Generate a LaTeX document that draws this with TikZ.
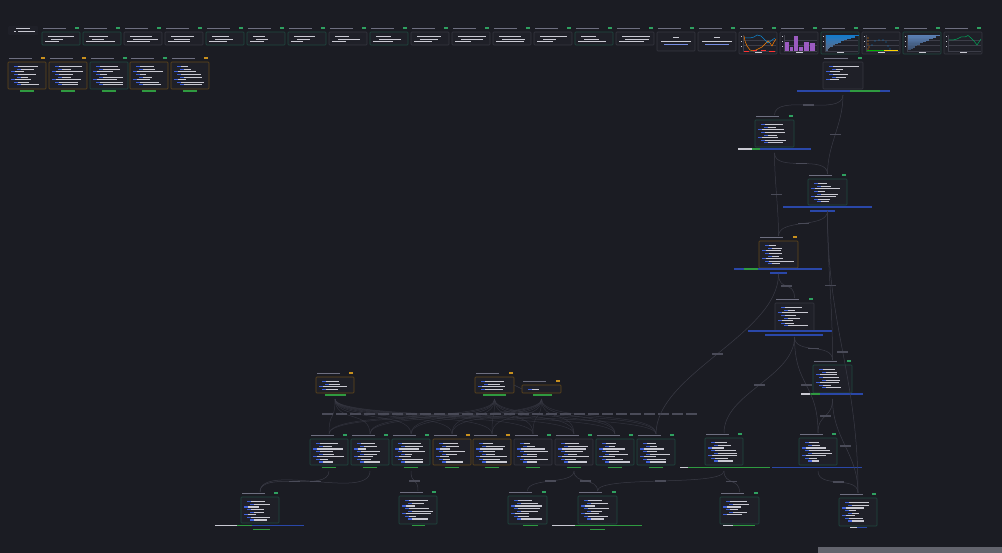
\documentclass[tikz,border=0pt]{standalone}
\usetikzlibrary{positioning,calc}
\definecolor{bg}{HTML}{1B1C23}
\definecolor{cardfill}{HTML}{1F2028}
\definecolor{tealedge}{HTML}{1F4A40}
\definecolor{grayedge}{HTML}{363741}
\definecolor{amberedge}{HTML}{64491A}
\definecolor{badgegreen}{HTML}{2FA060}
\definecolor{badgeamber}{HTML}{C8901E}
\definecolor{wirec}{HTML}{3A3B46}
\definecolor{elblc}{HTML}{4A4B58}
\definecolor{titlec}{HTML}{6E6F80}
\definecolor{txtwhite}{HTML}{C9C9D2}
\definecolor{kwblue}{HTML}{3D5FD8}
\definecolor{strred}{HTML}{B8323C}
\definecolor{outgreen}{HTML}{2F9A40}
\definecolor{lblblue}{HTML}{2A47A8}
\definecolor{gridc}{HTML}{3C3D48}
\definecolor{barpurple}{HTML}{9B5BC0}
\definecolor{steelblue}{HTML}{5A80B4}

% card: name, x, y, width, height, border, badge, lines, keyword colour
\newcommand{\card}[9]{%
  \node[card, draw=#6, minimum width=#4pt, minimum height=#5pt] (#1) at (#2,#3) {};
  \fill[titletxt] ($(#1.north west)+(1,-3.8)$) rectangle ++({0.6*#4},1.1);
  \fill[#7] ($(#1.north east)+(-5,-4.6)$) rectangle ++(4,1.6);
  \coordinate (#1-o) at ($(#1.south)+(0,6)$);
  \coordinate (#1-i) at ($(#1.north)+(0,-5)$);
  \ifnum#8>0
  \foreach \k in {1,...,#8}{
    \pgfmathsetmacro\ind{3+3*mod(\k,3)}
    \pgfmathsetmacro\len{6+(#4-14-\ind)*rnd}
    \fill[#9] ($(#1.north west)+(\ind,1.6+\k*2.6)$) rectangle ++(3.5,1.1);
    \fill[txtwhite] ($(#1.north west)+(\ind+4.3,1.6+\k*2.6)$) rectangle ++(\len,1.1);
  }
  \fi
}
% output label bar under a card
\newcommand{\outlbl}[4]{\fill[#4] (#1,#2) rectangle ++(#3,1.7);}
% connector with a label on it
\newcommand{\link}[3]{\draw[wire] (#1-o) .. controls +(0,#3) and +(0,-#3) .. (#2-i) node[elbl,pos=0.5] {};}

\begin{document}
\begin{tikzpicture}[x=1pt,y=-1pt,
  card/.style={anchor=north west,fill=cardfill,line width=0.6pt,inner sep=0pt,outer sep=0pt,rounded corners=0.8pt},
  wire/.style={draw=wirec,line width=0.5pt},
  elbl/.style={fill=elblc,inner sep=0pt,minimum width=11pt,minimum height=1.3pt},
  titletxt/.style={fill=titlec}]
\fill[bg] (0,0) rectangle (1002,553);
\pgfmathsetseed{7}

% top left
\node[anchor=north west,fill=cardfill,rounded corners=1pt,minimum width=30pt,minimum height=9pt,inner sep=0pt] (t0) at (8,26) {};
\fill[txtwhite] (16,28) rectangle ++(14,1);
\fill[txtwhite] (14,31) rectangle ++(2,1.5);
\fill[txtwhite] (18,31) rectangle ++(17,1);

% top row of notes
\foreach \i/\bc in {1/tealedge,2/tealedge,3/grayedge,4/grayedge,5/tealedge,6/tealedge,7/tealedge,8/grayedge,9/tealedge,10/grayedge,11/grayedge,12/grayedge,13/grayedge,14/tealedge,15/grayedge}{
  \pgfmathsetmacro\tx{42+41*(\i-1)}
  \card{t\i}{\tx}{32}{38}{13}{\bc}{badgegreen}{3}{txtwhite}
}
\foreach \i/\tx in {16/657,17/698}{
  \card{t\i}{\tx}{32}{38}{19}{grayedge}{badgegreen}{0}{txtwhite}
  \fill[txtwhite] ($(t\i.north)+(-3,5)$) rectangle ++(6,1.2);
  \fill[txtwhite] ($(t\i.north)+(-15,9)$) rectangle ++(30,1.1);
  \fill[kwblue!70] ($(t\i.north)+(-12,12)$) rectangle ++(24,1.1);
}
% chart cards
\foreach \i/\bc in {18/grayedge,19/grayedge,20/tealedge,21/grayedge,22/tealedge,23/grayedge}{
  \pgfmathsetmacro\tx{42+41*(\i-1)}
  \card{t\i}{\tx}{32}{38}{22}{\bc}{badgegreen}{0}{txtwhite}
  \begin{scope}[shift={(t\i.north west)}]
    \draw[gridc,line width=0.3pt] (4,3) -- (4,19) -- (37,19);
    \draw[gridc,line width=0.2pt] (4,8) -- (37,8) (4,13) -- (37,13);
    \foreach \yy in {4,9,14} \fill[txtwhite] (1.5,\yy) rectangle ++(1.2,0.8);
    \fill[txtwhite] (16,20.3) rectangle ++(7,0.9);
  \end{scope}
}
\begin{scope}[shift={(t18.north west)}]
  \draw[orange,line width=0.5pt] (5,4)--(6,9)--(8,14)--(11,18)--(15,19)--(19,17)--(23,15)--(26,12)--(29,9)--(31,11)--(33,14)--(35,10)--(37,7);
  \draw[cyan!70!blue,line width=0.5pt] (6,6)--(11,6)--(15,5)--(18,3)--(22,4)--(26,8)--(29,11)--(33,8)--(36,6);
  \draw[red!80,line width=0.8pt] (5,19)--(10,19) (14,18.5)--(18,18.5) (22,18)--(27,18) (30,19)--(36,19);
\end{scope}
\begin{scope}[shift={(t19.north west)}]
  \foreach \a/\b/\h in {5/9/10,10/13/15,14/18/4,19/23/15,24/29/10,30/35/11}
    \fill[barpurple] (\a,\h) rectangle (\b,19);
\end{scope}
\begin{scope}[shift={(t20.north west)}]
  \foreach \k in {0,...,11}{
    \pgfmathsetmacro\bl{32*(1-\k/12)^1.6+1}
    \fill[cyan!60!blue!\the\numexpr100-5*\k\relax!bg] (5,{3+\k*1.3}) rectangle ++(\bl,1.3);
  }
\end{scope}
\begin{scope}[shift={(t21.north west)}]
  \foreach \p in {(6,6),(6,9),(6,12),(7,15),(6,17)} \fill[orange] \p circle (0.6);
  \foreach \p in {(10,13),(13,9),(17,8),(21,8),(24,10),(26,14),(28,17)} \fill[cyan!60!blue] \p circle (0.6);
  \draw[green!70!black,line width=0.8pt] (5,18.5) -- (22,18.5);
  \draw[yellow!70!orange,line width=0.8pt] (22,18.5) -- (36,18.5);
\end{scope}
\begin{scope}[shift={(t22.north west)}]
  \foreach \k in {0,...,10}{
    \pgfmathsetmacro\bl{30*(1-\k/11)^1.4+2}
    \fill[steelblue!\the\numexpr100-5*\k\relax!bg] (5,{3+\k*1.4}) rectangle ++(\bl,1.4);
  }
\end{scope}
\begin{scope}[shift={(t23.north west)}]
  \draw[teal!70!green,line width=0.5pt] (5,8)--(9,8)--(13,7)--(17,5)--(21,5)--(24,3.5)--(27,6)--(30,9)--(33,13)--(35,10)--(37,7);
\end{scope}

% second row of code cells
\foreach \i/\sx/\bc/\bd in {1/8/amberedge/badgeamber,2/49/amberedge/badgeamber,3/90/tealedge/badgegreen,4/130/amberedge/badgegreen,5/171/amberedge/badgeamber}{
  \card{s\i}{\sx}{62}{38}{27}{\bc}{\bd}{8}{kwblue}
  \outlbl{\sx+12}{90.5}{14}{outgreen}
}

% right column chain
\card{A}{823}{62}{40}{27}{grayedge}{badgegreen}{6}{kwblue}
\card{B}{755}{120}{39}{27}{tealedge}{badgegreen}{8}{kwblue}
\card{C}{808}{179}{39}{26}{tealedge}{badgegreen}{8}{kwblue}
\card{D}{759}{241}{39}{27}{amberedge}{badgeamber}{8}{kwblue}
\card{E}{775}{303}{39}{28}{grayedge}{badgegreen}{8}{kwblue}
\card{F}{813}{365}{39}{28}{tealedge}{badgegreen}{8}{kwblue}
\card{G}{799}{438}{38}{27}{tealedge}{badgegreen}{8}{kwblue}
\card{I}{705}{438}{38}{27}{tealedge}{badgegreen}{8}{kwblue}
\card{J}{720}{497}{39}{27}{tealedge}{badgegreen}{6}{kwblue}
\card{H}{839}{498}{38}{28}{tealedge}{badgegreen}{8}{kwblue}

\outlbl{797}{90.5}{53}{lblblue} \outlbl{850}{90.5}{30}{outgreen} \outlbl{880}{90.5}{10}{lblblue}
\outlbl{738}{148.5}{14}{txtwhite} \outlbl{752}{148.5}{8}{outgreen} \outlbl{760}{148.5}{51}{lblblue}
\outlbl{783}{206.5}{89}{lblblue} \outlbl{810}{210.5}{25}{lblblue}
\outlbl{734}{268.5}{10}{lblblue} \outlbl{744}{268.5}{14}{outgreen} \outlbl{758}{268.5}{64}{lblblue} \outlbl{770}{272.5}{17}{lblblue}
\outlbl{748}{330.5}{84}{lblblue} \outlbl{765}{334.5}{58}{lblblue}
\outlbl{801}{393.5}{9}{txtwhite} \outlbl{810}{393.5}{10}{outgreen} \outlbl{820}{393.5}{43}{lblblue}
\outlbl{772}{466.5}{90}{lblblue}
\outlbl{680}{466.5}{8}{txtwhite} \outlbl{688}{466.5}{82}{outgreen}
\outlbl{723}{524.5}{10}{txtwhite} \outlbl{733}{524.5}{22}{outgreen}
\outlbl{850}{526.5}{7}{txtwhite} \outlbl{857}{526.5}{10}{lblblue}

% middle cluster
\card{K}{316}{377}{38}{16}{amberedge}{badgeamber}{4}{kwblue}
\card{L}{475}{377}{39}{16}{amberedge}{badgeamber}{4}{kwblue}
\card{M}{522}{385}{39}{8}{amberedge}{badgeamber}{1}{kwblue}
\outlbl{325}{394.5}{21}{outgreen} \outlbl{483}{394.5}{23}{outgreen} \outlbl{533}{394.5}{19}{outgreen}
\draw[wire] (L.east) -- (M.west);

\foreach \i/\rx/\bc/\bd in {1/310/tealedge/badgegreen,2/351/tealedge/badgegreen,3/392/tealedge/badgegreen,4/433/amberedge/badgeamber,5/473/amberedge/badgeamber,6/514/grayedge/badgegreen,7/555/grayedge/badgegreen,8/596/tealedge/badgegreen,9/637/tealedge/badgegreen}{
  \card{r\i}{\rx}{439}{38}{26}{\bc}{\bd}{8}{kwblue}
  \outlbl{\rx+12}{466.5}{14}{outgreen}
}

% bottom row
\card{N}{241}{497}{38}{26}{tealedge}{badgegreen}{8}{kwblue}
\card{O}{399}{496}{38}{28}{tealedge}{badgegreen}{8}{kwblue}
\card{P}{508}{496}{39}{28}{tealedge}{badgegreen}{8}{kwblue}
\card{Q}{578}{496}{39}{28}{tealedge}{badgegreen}{8}{kwblue}
\outlbl{215}{524.5}{22}{txtwhite} \outlbl{237}{524.5}{15}{outgreen} \outlbl{252}{524.5}{52}{lblblue} \outlbl{253}{528.5}{17}{outgreen}
\outlbl{412}{524.5}{13}{outgreen}
\outlbl{523}{524.5}{15}{outgreen}
\outlbl{552}{524.5}{23}{txtwhite} \outlbl{575}{524.5}{67}{outgreen} \outlbl{590}{528.5}{15}{outgreen}

% fan from the three top cells
\foreach \s in {K,L,M}
  \foreach \i in {1,...,9}
    \draw[wire,opacity=0.7] (\s-o) .. controls +(0,24) and +(0,-24) .. (r\i-i);
\foreach \lx in {322,336,...,690} \fill[elblc] (\lx,413.5) rectangle ++(11,1.3);

% connectors of the right chain
\link{A}{B}{22}
\link{A}{C}{30}
\link{B}{C}{20}
\link{B}{D}{30}
\link{C}{D}{18}
\link{C}{F}{60}
\link{D}{E}{18}
\link{E}{F}{18}
\link{F}{G}{20}
\link{G}{H}{18}
\link{C}{H}{120}
\link{F}{H}{40}
\link{E}{G}{50}
\link{D}{r9}{60}
\link{E}{I}{40}
\link{I}{J}{14}
\link{I}{Q}{16}

% lower connectors
\link{r1}{N}{22}
\link{r2}{N}{30}
\link{r3}{O}{14}
\link{r7}{P}{14}
\link{r7}{Q}{14}

% scroll bar
\fill[gridc!80!white] (818,547) rectangle (1002,553);
\end{tikzpicture}
\end{document}
